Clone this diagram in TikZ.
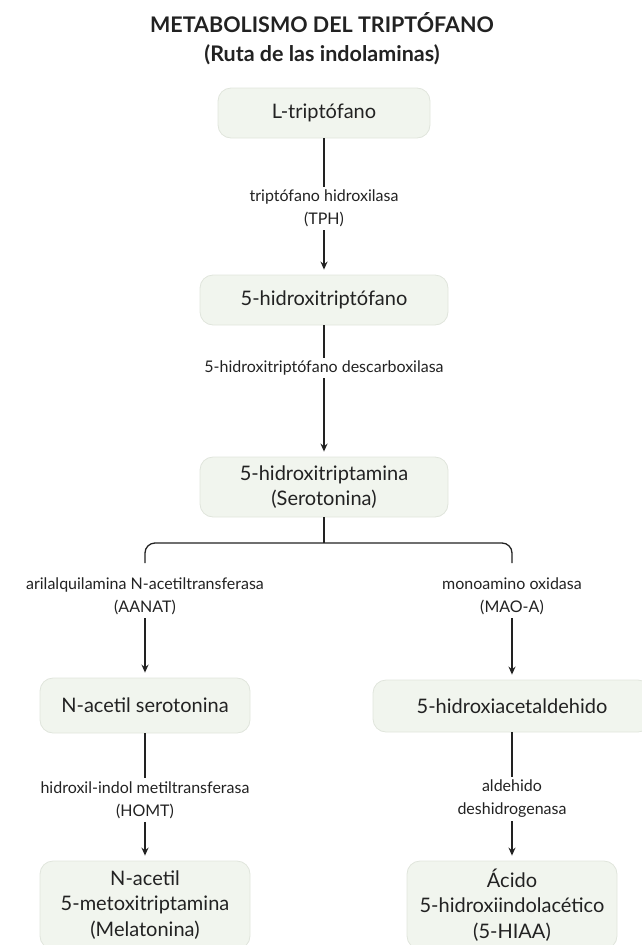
\documentclass[tikz,border=0pt]{standalone}
\usepackage{fontspec}
\setmainfont{Lato}
\usetikzlibrary{arrows.meta}
\definecolor{boxfill}{HTML}{F1F5EE}
\definecolor{boxline}{HTML}{E0E5DC}
\definecolor{ink}{HTML}{222222}
\begin{document}
\begin{tikzpicture}[x=1pt, y=-1pt,
  box/.style={draw=boxline, fill=boxfill, line width=0.8pt, rounded corners=13pt,
    align=center, text=ink, font=\fontsize{20}{25.5}\selectfont},
  enz/.style={align=center, text=ink, inner sep=3pt, font=\fontsize{16}{23}\selectfont},
  link/.style={draw=ink, line width=1.3pt},
  arr/.style={link, -{Stealth[length=8pt, width=7pt]}, shorten >=5pt}]
\useasboundingbox (0,0) rectangle (641,945);
\node (title) [align=center, text=ink, font=\bfseries\fontsize{21.5}{29}\selectfont] at (322,38.5)
  {METABOLISMO DEL TRIPTÓFANO\\(Ruta de las indolaminas)};
\node [box, minimum width=212pt, minimum height=50pt] (trp) at (324,113) {L-triptófano};
\node [enz] (tph) at (324,208.5) {triptófano hidroxilasa\\(TPH)};
\node [box, minimum width=248pt, minimum height=50pt] (htp) at (324,300) {5-hidroxitriptófano};
\node [enz] (ddc) at (324,368) {5-hidroxitriptófano descarboxilasa};
\node [box, minimum width=248pt, minimum height=60pt] (sero) at (324,487) {5-hidroxitriptamina\\(Serotonina)};
\coordinate (split) at (324,543);
\coordinate (splitL) at (145,563);
\coordinate (splitR) at (512,563);
\node [enz] (aanat) at (145,596.5) {arilalquilamina N-acetiltransferasa\\(AANAT)};
\node [enz] (mao) at (512,596.5) {monoamino oxidasa\\(MAO-A)};
\node [box, minimum width=210pt, minimum height=55pt] (nas) at (145,705.5) {N-acetil serotonina};
\node [box, minimum width=278pt, minimum height=52pt] (hald) at (512,706) {5-hidroxiacetaldehido};
\node [enz] (homt) at (145,800) {hidroxil-indol metiltransferasa\\(HOMT)};
\node [enz] (aldh) at (512,799) {aldehido\\deshidrogenasa};
\node [box, minimum width=210pt, minimum height=88pt] (mela) at (145,905) {N-acetil\\5-metoxitriptamina\\(Melatonina)};
\node [box, minimum width=210pt, minimum height=88pt] (hiaa) at (512,905) {Ácido\\5-hidroxiindolacético\\(5-HIAA)};
\draw [link] (trp) -- (tph);
\draw [arr] (tph) -- (htp);
\draw [link] (htp) -- (ddc);
\draw [arr] (ddc) -- (sero);
\draw [link] (sero) -- (split);
\draw [link, rounded corners=10pt] (splitL) |- (split) -| (splitR);
\draw [arr] (aanat) -- (nas);
\draw [arr] (mao) -- (hald);
\draw [link] (nas) -- (homt);
\draw [arr] (homt) -- (mela);
\draw [link] (hald) -- (aldh);
\draw [arr] (aldh) -- (hiaa);
\end{tikzpicture}
\end{document}
